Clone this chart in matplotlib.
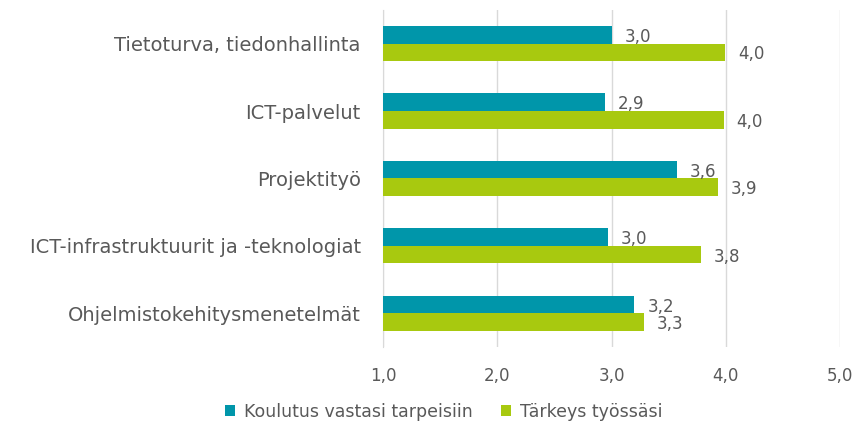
import matplotlib.pyplot as plt
import numpy as np

# Data
categories = ['Tietoturva, tiedonhallinta', 'ICT-palvelut', 'Projektityö',
              'ICT-infrastruktuurit ja -teknologiat', 'Ohjelmistokehitysmenetelmät']
koulutus = [3.00, 2.94, 3.57, 2.97, 3.20]
tarkeys = [3.99, 3.98, 3.93, 3.78, 3.28]
series_names = ['Koulutus vastasi tarpeisiin', 'Tärkeys työssäsi']
xticks = [1.0, 2.0, 3.0, 4.0, 5.0]

teal = '#0096AA'
green = '#A8C90F'
text_color = '#595959'

fig = plt.figure(figsize=(8.53, 4.29), dpi=100)
ax = fig.add_axes([0.449, 0.191, 0.536, 0.786])

y = np.arange(len(categories))[::-1]
h = 0.26
b1 = ax.barh(y + h / 2, np.array(koulutus) - 1, left=1, height=h, color=teal,
             label=series_names[0], zorder=3)
b2 = ax.barh(y - h / 2, np.array(tarkeys) - 1, left=1, height=h, color=green,
             label=series_names[1], zorder=3)

# Value labels with comma decimals
for bars, vals in ((b1, koulutus), (b2, tarkeys)):
    for bar, v in zip(bars, vals):
        ax.annotate(f'{v:.1f}'.replace('.', ','),
                    (v, bar.get_y() + bar.get_height() / 2),
                    xytext=(13, -2), textcoords='offset pixels',
                    va='center', ha='left', fontsize=12, color=text_color)

ax.set_xlim(1, 5)
ax.set_ylim(-0.5, len(categories) - 0.5)
ax.set_xticks(xticks)
ax.set_xticklabels([f'{t:.1f}'.replace('.', ',') for t in xticks],
                   fontsize=12, color=text_color)
ax.set_yticks(y)
ax.set_yticklabels(categories, fontsize=14, color=text_color)
ax.tick_params(axis='both', length=0)
ax.tick_params(axis='x', pad=14)
ax.tick_params(axis='y', pad=16)

ax.grid(axis='x', color='#D9D9D9', linewidth=1, zorder=0)
for s in ['top', 'right', 'bottom']:
    ax.spines[s].set_visible(False)
ax.spines['left'].set_color('#D9D9D9')

fig.legend(loc='lower center', bbox_to_anchor=(0.52, -0.018), ncol=2, frameon=False,
           fontsize=12.5, labelcolor=text_color, handlelength=0.6, handleheight=0.6,
           columnspacing=1.6, handletextpad=0.5)

fig.savefig('out.png', dpi=100)
